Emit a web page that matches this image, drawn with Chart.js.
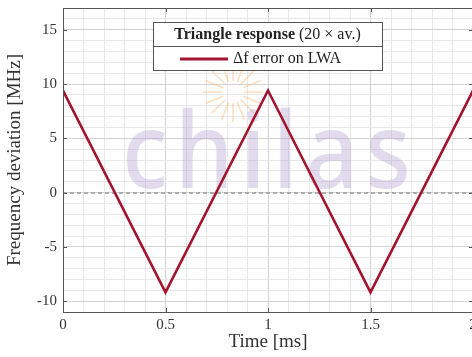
<!DOCTYPE html>
<html>
<head>
<meta charset="utf-8">
<script src="https://cdn.jsdelivr.net/npm/chart.js@4.4.1/dist/chart.umd.min.js"></script>
<style>
  html, body { margin: 0; padding: 0; overflow: hidden; background: #fff; }
  #wrap { position: absolute; left: 0; top: 0; width: 490px; height: 357px; }
</style>
</head>
<body>
<div id="wrap"><canvas id="triChart"></canvas></div>
<script>
// data
const timeMs = [0, 0.5, 1, 1.5, 2];
const freqDev = [9.4, -9.2, 9.4, -9.2, 9.4];
const xTickLabels = ["0", "0.5", "1", "1.5", "2"];
const yTickLabels = ["-10", "-5", "0", "5", "10", "15"];
const seriesLabel = "Δf error on LWA";
const legendTitleBold = "Triangle response";
const legendTitleRest = " (20 × av.)";

const SERIF = "'Liberation Serif', 'DejaVu Serif', serif";
const TEXT = "#333333";
const RED = "#A2142F";

const points = timeMs.map((t, i) => ({ x: t, y: freqDev[i] }));

/* ---------------------------
   watermark + zero line (under the data)
---------------------------- */
const underlay = {
    id: "underlay",
    beforeDatasetsDraw(chart) {
        const ctx = chart.ctx;
        const area = chart.chartArea;
        const y0 = chart.scales.y.getPixelForValue(0);
        ctx.save();
        ctx.beginPath();
        ctx.rect(area.left, area.top, area.right - area.left, area.bottom - area.top);
        ctx.clip();

        // sun
        const cx = 233, cy = 92;
        ctx.strokeStyle = "rgba(250, 200, 150, 0.6)";
        ctx.lineWidth = 1.6;
        for (let k = 0; k < 16; k++) {
            const a = k * Math.PI / 8;
            ctx.beginPath();
            ctx.moveTo(cx + Math.cos(a) * 11, cy + Math.sin(a) * 11);
            ctx.lineTo(cx + Math.cos(a) * 30, cy + Math.sin(a) * 30);
            ctx.stroke();
        }

        // logo text
        ctx.font = "500 106px 'Noto Sans'";
        ctx.letterSpacing = "8px";
        ctx.fillStyle = "rgba(175, 155, 205, 0.36)";
        ctx.textBaseline = "alphabetic";
        const w = ctx.measureText("chilas").width;
        ctx.translate(122, 188);
        ctx.scale(296 / w, 1);
        ctx.fillText("chilas", 0, 0);
        ctx.restore();

        // dashed zero line
        ctx.save();
        ctx.strokeStyle = "#777";
        ctx.lineWidth = 1;
        ctx.setLineDash([4, 3]);
        ctx.beginPath();
        ctx.moveTo(area.left, y0 + 0.5);
        ctx.lineTo(area.right, y0 + 0.5);
        ctx.stroke();
        ctx.restore();
    }
};

/* ---------------------------
   frame, inward ticks, legend box
---------------------------- */
const overlay = {
    id: "overlay",
    afterDraw(chart) {
        const ctx = chart.ctx;
        const a = chart.chartArea;
        const xs = chart.scales.x, ys = chart.scales.y;
        ctx.save();
        ctx.strokeStyle = "#555";
        ctx.lineWidth = 1;
        ctx.strokeRect(a.left + 0.5, a.top + 0.5, a.right - a.left, a.bottom - a.top);

        ctx.beginPath();
        [0, 0.5, 1, 1.5, 2].forEach(v => {
            const px = Math.round(xs.getPixelForValue(v)) + 0.5;
            ctx.moveTo(px, a.bottom); ctx.lineTo(px, a.bottom - 4);
            ctx.moveTo(px, a.top); ctx.lineTo(px, a.top + 4);
        });
        [-10, -5, 0, 5, 10, 15].forEach(v => {
            const py = Math.round(ys.getPixelForValue(v)) + 0.5;
            ctx.moveTo(a.left, py); ctx.lineTo(a.left + 4, py);
            ctx.moveTo(a.right, py); ctx.lineTo(a.right - 4, py);
        });
        ctx.stroke();

        // legend
        const bx = 153, by = 22, bw = 229, bh = 48;
        ctx.fillStyle = "#fff";
        ctx.fillRect(bx, by, bw, bh);
        ctx.strokeStyle = "#555";
        ctx.strokeRect(bx + 0.5, by + 0.5, bw, bh);
        ctx.beginPath();
        ctx.moveTo(bx, by + 24.5);
        ctx.lineTo(bx + bw, by + 24.5);
        ctx.stroke();

        ctx.fillStyle = "#222";
        ctx.textBaseline = "middle";
        ctx.font = "bold 16px " + SERIF;
        const w1 = ctx.measureText(legendTitleBold).width;
        ctx.font = "16px " + SERIF;
        const w2 = ctx.measureText(legendTitleRest).width;
        let tx = bx + (bw - w1 - w2) / 2;
        ctx.font = "bold 16px " + SERIF;
        ctx.fillText(legendTitleBold, tx, by + 13);
        ctx.font = "16px " + SERIF;
        ctx.fillText(legendTitleRest, tx + w1, by + 13);

        ctx.strokeStyle = RED;
        ctx.lineWidth = 3;
        ctx.beginPath();
        ctx.moveTo(180, by + 37);
        ctx.lineTo(228, by + 37);
        ctx.stroke();
        ctx.fillText(chart.data.datasets[0].label, 233, by + 37);
        ctx.restore();
    }
};

const isMult = (v, step) => Math.abs(v / step - Math.round(v / step)) < 1e-6;

new Chart(document.getElementById("triChart"), {
    type: "line",
    data: {
        datasets: [{
            label: seriesLabel,
            data: points,
            borderColor: RED,
            borderWidth: 2.6,
            pointRadius: 0,
            fill: false,
            tension: 0
        }]
    },
    options: {
        responsive: true,
        maintainAspectRatio: false,
        animation: false,
        layout: { padding: { top: 8, right: 17, left: 0, bottom: 0 } },
        plugins: {
            legend: { display: false },
            tooltip: { enabled: false }
        },
        scales: {
            x: {
                type: "linear",
                min: 0,
                max: 2,
                afterFit: s => { s.height = 45; s.paddingLeft = 0; s.paddingRight = 0; },
                afterBuildTicks: s => {
                    s.ticks = [];
                    for (let i = 0; i <= 20; i++) s.ticks.push({ value: i / 10 });
                },
                ticks: {
                    autoSkip: false,
                    maxRotation: 0,
                    padding: 4,
                    color: TEXT,
                    font: { family: SERIF, size: 15 },
                    callback: v => isMult(v, 0.5) ? xTickLabels[Math.round(v * 2)] : ""
                },
                grid: {
                    drawTicks: false,
                    color: ctx => isMult(ctx.tick.value, 0.5) ? "#d2d2d2" : "#e8e8e8"
                },
                border: { display: false },
                title: {
                    display: true,
                    text: "Time [ms]",
                    color: TEXT,
                    font: { family: SERIF, size: 19 },
                    padding: { top: 2 }
                }
            },
            y: {
                min: -11,
                max: 17,
                afterFit: s => { s.width = 63; s.paddingTop = 0; s.paddingBottom = 0; },
                afterBuildTicks: s => {
                    s.ticks = [];
                    for (let v = -11; v <= 17; v++) s.ticks.push({ value: v });
                },
                ticks: {
                    autoSkip: false,
                    padding: 6,
                    color: TEXT,
                    font: { family: SERIF, size: 15 },
                    callback: v => isMult(v, 5) ? yTickLabels[(v + 10) / 5] : ""
                },
                grid: {
                    drawTicks: false,
                    color: ctx => isMult(ctx.tick.value, 5) ? "#d2d2d2" : "#e8e8e8"
                },
                border: { display: false },
                title: {
                    display: true,
                    text: "Frequency deviation [MHz]",
                    color: TEXT,
                    font: { family: SERIF, size: 19 },
                    padding: { bottom: 4 }
                }
            }
        }
    },
    plugins: [underlay, overlay]
});
</script>
</body>
</html>
